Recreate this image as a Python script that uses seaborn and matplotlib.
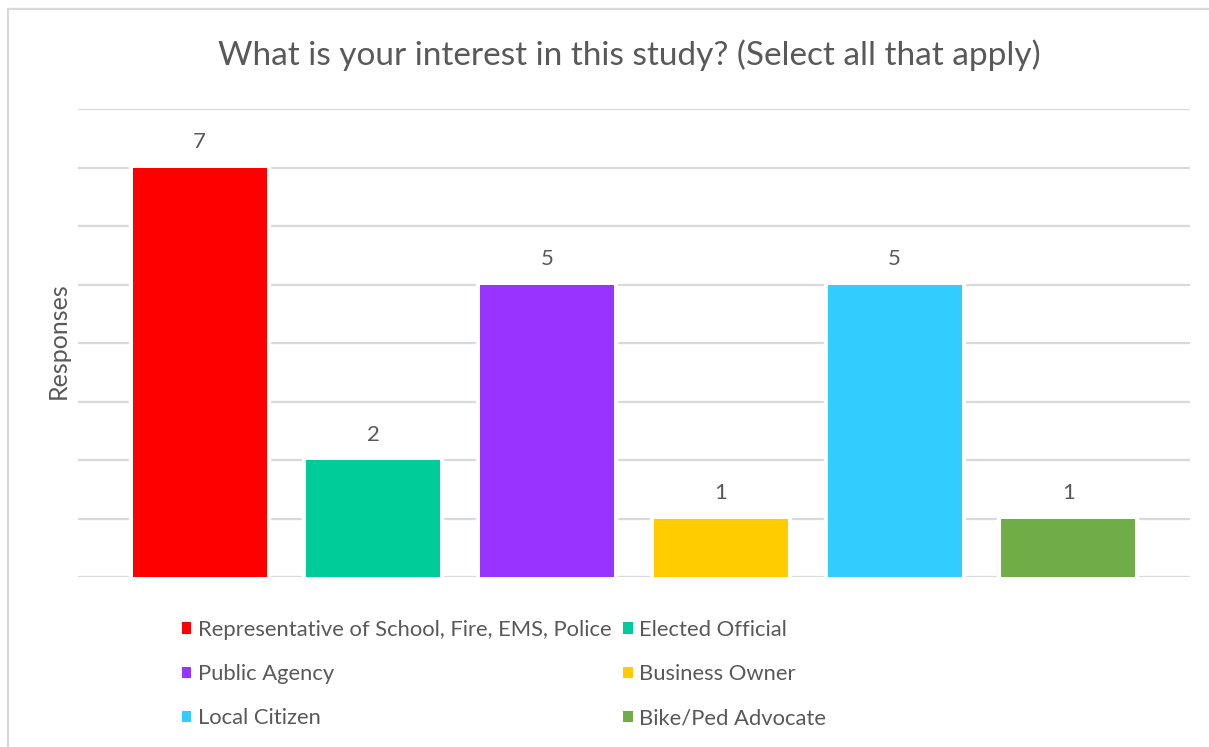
import matplotlib
matplotlib.use("Agg")
import matplotlib.pyplot as plt
from matplotlib.patches import Rectangle, Patch
import matplotlib.patheffects as pe
import seaborn as sns
import pandas as pd

# Survey responses
categories = [
    "Representative of School, Fire, EMS, Police",
    "Elected Official",
    "Public Agency",
    "Business Owner",
    "Local Citizen",
    "Bike/Ped Advocate",
]
responses = [7, 2, 5, 1, 5, 1]
colors = ["#FF0000", "#00CC99", "#9933FF", "#FFCC00", "#33CCFF", "#70AD47"]

title = "What is your interest in this study? (Select all that apply)"
y_label = "Responses"

TEXT = "#595959"
GRID = "#D9D9D9"

sns.set_theme(style="white")
plt.rcParams["font.family"] = ["Lato", "DejaVu Sans"]

df = pd.DataFrame({"category": categories, "responses": responses})

fig = plt.figure(figsize=(12.09, 7.47), dpi=100)
ax = fig.add_axes([78 / 1209, 1 - 577 / 747, (1190 - 78) / 1209, (577 - 109) / 747])

sns.barplot(
    data=df, x="category", y="responses", hue="category",
    palette=colors, order=categories, hue_order=categories,
    width=0.772, saturation=1, linewidth=0, legend=False, ax=ax,
)
# white halo behind each bar breaks the gridlines around it
for bar in ax.patches:
    bar.set_path_effects([pe.withStroke(linewidth=6, foreground="white"), pe.Normal()])

ax.set_ylim(0, 8)
ax.set_xlim(-0.70, 5.70)
ax.set_yticks(range(0, 9))
ax.yaxis.grid(True, color=GRID, linewidth=1.6)
ax.set_axisbelow(True)
ax.tick_params(left=False, bottom=False, labelleft=False, labelbottom=False)
for s in ax.spines.values():
    s.set_visible(False)
ax.set_xlabel("")
ax.set_ylabel("")

# value labels above bars
for i, v in enumerate(responses):
    ax.annotate(str(v), (i, v), xytext=(0, 11), textcoords="offset points",
                ha="center", va="bottom", fontsize=16, color=TEXT)

fig.text(629 / 1209, 1 - 55 / 747, title, ha="center", va="center",
         fontsize=24, color=TEXT)
fig.text(58 / 1209, 1 - 341 / 747, y_label, rotation=90, ha="center",
         va="center", fontsize=18, color=TEXT)

# legend laid out in two columns, row-major order
order = [0, 2, 4, 1, 3, 5]
handles = [Patch(facecolor=colors[i], edgecolor="none") for i in order]
labels = [categories[i] for i in order]
fig.legend(handles, labels, ncol=2, loc="upper left",
           bbox_to_anchor=(182 / 1209, 1 - 620 / 747), frameon=False,
           fontsize=15.8, labelcolor=TEXT, handlelength=0.42, handleheight=0.42,
           handletextpad=0.3, columnspacing=0.55, labelspacing=1.1,
           borderaxespad=0, borderpad=0)

# chart area frame
fig.patches.append(Rectangle((8 / 1209, -0.1), 1.2, 1 - 9 / 747 + 0.1,
                             transform=fig.transFigure, fill=False,
                             edgecolor=GRID, linewidth=1.6))

fig.savefig("out.png", dpi=100, facecolor="white")
